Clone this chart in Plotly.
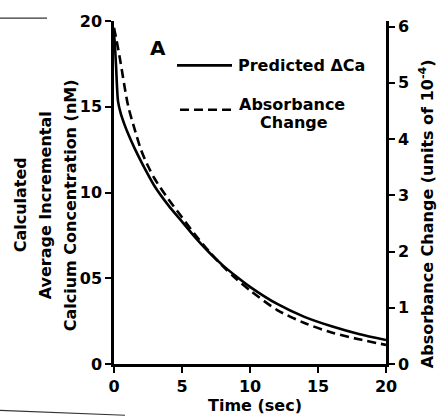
import plotly.graph_objects as go

# Data
t_pred = [0, 0.05, 0.15, 0.3, 0.5, 0.8, 1.0, 1.5, 2, 3, 4, 5, 6, 7, 8, 9, 10, 12, 14, 16, 18, 20]
ca_pred = [19.2, 18.8, 17.4, 15.3, 14.6, 13.9, 13.5, 12.6, 11.8, 10.35, 9.25, 8.3, 7.35, 6.5, 5.75, 5.1, 4.5,
           3.5, 2.75, 2.2, 1.75, 1.4]

t_abs = [0, 0.15, 0.3, 0.5, 0.75, 1.05, 1.5, 2, 2.5, 3, 4, 5, 6, 7, 8, 9, 10, 12, 14, 16, 18, 20]
abs_chg = [5.98, 5.80, 5.61, 5.34, 4.97, 4.58, 4.19, 3.80, 3.52, 3.29, 2.93, 2.61, 2.29, 2.00, 1.74, 1.51,
           1.31, 0.96, 0.73, 0.56, 0.44, 0.34]

x_ticks = [0, 5, 10, 15, 20]
left_ticks = [0, 5, 10, 15, 20]
left_labels = ["0", "05", "10", "15", "20"]
right_ticks = [0, 1, 2, 3, 4, 5, 6]

FONT = "DejaVu Sans, sans-serif"
W, H = 437, 418
ML, MR, MT, MB = 114, 51, 16, 54


def px(xp):
    return (xp - ML) / (W - ML - MR)


def py(yp):
    return 1 - (yp - MT) / (H - MT - MB)


fig = go.Figure()
fig.add_trace(go.Scatter(x=t_pred, y=ca_pred, mode="lines",
                         line=dict(color="black", width=2.6, shape="spline", smoothing=0.8),
                         name="Predicted ΔCa", showlegend=False))
fig.add_trace(go.Scatter(x=t_abs, y=abs_chg, mode="lines", yaxis="y2",
                         line=dict(color="black", width=2.6, dash="9px,5px", shape="spline", smoothing=0.8),
                         name="Absorbance Change", showlegend=False))

tf = dict(family=FONT, size=16, color="black", weight="bold")
tickf = dict(family=FONT, size=16, color="black", weight="bold")

axis_common = dict(showgrid=False, zeroline=False, showline=True, linecolor="black", linewidth=2.5,
                   ticks="outside", ticklen=6, tickwidth=2, tickcolor="black", tickfont=tickf)

fig.update_layout(
    width=W, height=H,
    margin=dict(l=ML, r=MR, t=MT, b=MB),
    paper_bgcolor="white", plot_bgcolor="white",
    xaxis=dict(range=[0, 20], tickvals=x_ticks, ticktext=[str(v) for v in x_ticks], **axis_common),
    yaxis=dict(range=[0, 20], tickvals=left_ticks, ticktext=left_labels, **axis_common),
    yaxis2=dict(range=[0, 6.1], tickvals=right_ticks, overlaying="y", side="right", anchor="x",
                **axis_common),
)

# Axis titles
fig.add_annotation(x=px(255), y=py(406), xref="paper", yref="paper", text="Time (sec)", showarrow=False,
                   xanchor="center", yanchor="middle", font=tf)
for xx, txt in [(20, "Calculated"), (45, "Average Incremental"), (70, "Calcium Concentration (nM)")]:
    fig.add_annotation(x=px(xx), y=py(203), xref="paper", yref="paper", text=txt, showarrow=False,
                       textangle=-90, xanchor="center", yanchor="middle", font=tf)
fig.add_annotation(x=px(426), y=py(212), xref="paper", yref="paper",
                   text="Absorbance Change (units of 10<sup>-4</sup>)", showarrow=False,
                   textangle=-90, xanchor="center", yanchor="middle", font=tf)

# Panel letter and legend
fig.add_annotation(x=px(158), y=py(43), xref="paper", yref="paper", text="A", showarrow=False,
                   xanchor="center", yanchor="middle", font=dict(family=FONT, size=20, color="black", weight="bold"))
fig.add_shape(type="line", xref="paper", yref="paper", x0=px(177), x1=px(232), y0=py(61), y1=py(61),
              line=dict(color="black", width=2.6))
fig.add_shape(type="line", xref="paper", yref="paper", x0=px(180), x1=px(232), y0=py(106), y1=py(106),
              line=dict(color="black", width=2.6, dash="9px,5px"))
fig.add_annotation(x=px(236), y=py(61), xref="paper", yref="paper", text="Predicted ΔCa", showarrow=False,
                   xanchor="left", yanchor="middle", font=tf)
fig.add_annotation(x=px(292), y=py(101), xref="paper", yref="paper", text="Absorbance", showarrow=False,
                   xanchor="center", yanchor="middle", font=tf)
fig.add_annotation(x=px(294), y=py(119), xref="paper", yref="paper", text="Change", showarrow=False,
                   xanchor="center", yanchor="middle", font=tf)

# Scan marks
fig.add_shape(type="line", xref="paper", yref="paper", x0=px(0), x1=px(47), y0=py(13), y1=py(13),
              line=dict(color="#333", width=1.2))
fig.add_shape(type="line", xref="paper", yref="paper", x0=px(0), x1=px(125), y0=py(411), y1=py(416),
              line=dict(color="#333", width=1.2))

fig.write_html("out.html")
